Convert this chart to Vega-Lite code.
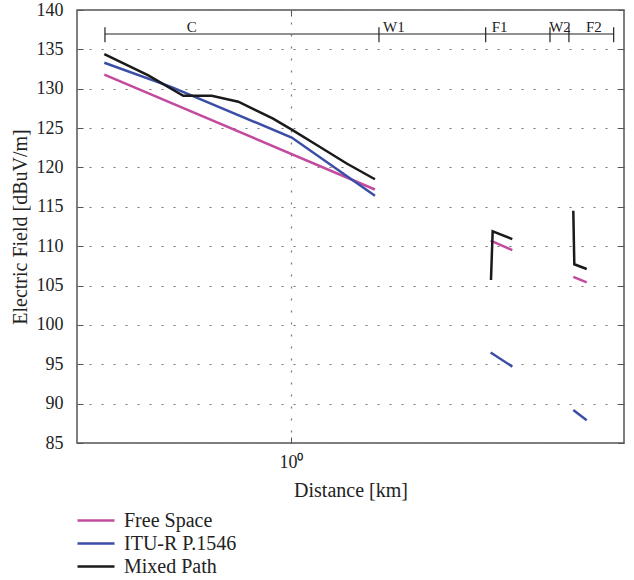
{
  "$schema": "https://vega.github.io/schema/vega-lite/v6.json",
  "autosize": {"type": "none"},
  "width": 547,
  "height": 433,
  "padding": {"left": 77, "top": 10, "right": 10, "bottom": 137},
  "config": {
    "font": "Liberation Serif",
    "view": {"stroke": "#555", "strokeWidth": 1.5},
    "axis": {
      "domain": false,
      "labelFont": "Liberation Serif",
      "titleFont": "Liberation Serif",
      "labelFontSize": 18,
      "titleFontSize": 20,
      "titleFontWeight": "normal",
      "labelColor": "#222",
      "titleColor": "#222",
      "tickColor": "#555",
      "tickSize": -6,
      "gridColor": "#777",
      "gridDash": [2, 10],
      "gridWidth": 1.2
    },
    "legend": {
      "labelFont": "Liberation Serif",
      "labelFontSize": 20,
      "labelColor": "#222"
    }
  },
  "resolve": {"axis": {"x": "independent", "y": "independent"}},
  "datasets": {
    "lines": [
      {"series": "Free Space", "seg": "FS-C", "d": 0.311, "E": 131.8},
      {"series": "Free Space", "seg": "FS-C", "d": 1.691, "E": 117.2},
      {"series": "Free Space", "seg": "FS-F1", "d": 3.488, "E": 110.7},
      {"series": "Free Space", "seg": "FS-F1", "d": 3.994, "E": 109.5},
      {"series": "Free Space", "seg": "FS-F2", "d": 5.85, "E": 106.1},
      {"series": "Free Space", "seg": "FS-F2", "d": 6.362, "E": 105.4},
      {"series": "ITU-R P.1546", "seg": "IT-C", "d": 0.311, "E": 133.3},
      {"series": "ITU-R P.1546", "seg": "IT-C", "d": 0.474, "E": 130.2},
      {"series": "ITU-R P.1546", "seg": "IT-C", "d": 1.0044, "E": 123.8},
      {"series": "ITU-R P.1546", "seg": "IT-C", "d": 1.691, "E": 116.4},
      {"series": "ITU-R P.1546", "seg": "IT-F1", "d": 3.488, "E": 96.5},
      {"series": "ITU-R P.1546", "seg": "IT-F1", "d": 3.994, "E": 94.7},
      {"series": "ITU-R P.1546", "seg": "IT-F2", "d": 5.85, "E": 89.2},
      {"series": "ITU-R P.1546", "seg": "IT-F2", "d": 6.362, "E": 87.9},
      {"series": "Mixed Path", "seg": "MP-C", "d": 0.311, "E": 134.4},
      {"series": "Mixed Path", "seg": "MP-C", "d": 0.4095, "E": 131.7},
      {"series": "Mixed Path", "seg": "MP-C", "d": 0.5097, "E": 129.1},
      {"series": "Mixed Path", "seg": "MP-C", "d": 0.6089, "E": 129.1},
      {"series": "Mixed Path", "seg": "MP-C", "d": 0.7191, "E": 128.35},
      {"series": "Mixed Path", "seg": "MP-C", "d": 0.7985, "E": 127.3},
      {"series": "Mixed Path", "seg": "MP-C", "d": 0.894, "E": 126.2},
      {"series": "Mixed Path", "seg": "MP-C", "d": 1.0044, "E": 124.8},
      {"series": "Mixed Path", "seg": "MP-C", "d": 1.199, "E": 122.6},
      {"series": "Mixed Path", "seg": "MP-C", "d": 1.417, "E": 120.5},
      {"series": "Mixed Path", "seg": "MP-C", "d": 1.691, "E": 118.5},
      {"series": "Mixed Path", "seg": "MP-F1", "d": 3.495, "E": 105.7},
      {"series": "Mixed Path", "seg": "MP-F1", "d": 3.532, "E": 111.9},
      {"series": "Mixed Path", "seg": "MP-F1", "d": 3.994, "E": 110.9},
      {"series": "Mixed Path", "seg": "MP-F2", "d": 5.85, "E": 114.5},
      {"series": "Mixed Path", "seg": "MP-F2", "d": 5.887, "E": 107.7},
      {"series": "Mixed Path", "seg": "MP-F2", "d": 6.362, "E": 107.1}
    ],
    "bounds": [
      {"d": 0.3122, "lo": 135.9, "hi": 137.8},
      {"d": 1.734, "lo": 135.9, "hi": 137.8},
      {"d": 3.381, "lo": 135.9, "hi": 137.8},
      {"d": 5.056, "lo": 135.9, "hi": 137.8},
      {"d": 5.692, "lo": 135.9, "hi": 137.8},
      {"d": 7.531, "lo": 135.9, "hi": 137.8}
    ],
    "span": [{"d": 0.3122, "d2": 7.531, "E": 136.95}],
    "zones": [
      {"d": 0.5206, "E": 137.24, "label": "C"},
      {"d": 1.778, "E": 137.24, "label": "W1"},
      {"d": 3.51, "E": 137.24, "label": "F1"},
      {"d": 5.03, "E": 137.24, "label": "W2"},
      {"d": 6.33, "E": 137.24, "label": "F2"}
    ]
  },
  "layer": [
    {
      "data": {"name": "lines"},
      "mark": {"type": "line", "strokeWidth": 2.5},
      "encoding": {
        "x": {
          "field": "d", "type": "quantitative",
          "scale": {"type": "log", "domain": [0.2621, 8.034], "nice": false},
          "axis": {"values": [1], "labelExpr": "'10⁰'", "title": "Distance [km]", "grid": true, "labelPadding": 16, "titlePadding": 9}
        },
        "y": {
          "field": "E", "type": "quantitative",
          "scale": {"domain": [85, 140], "nice": false, "zero": false},
          "axis": {"values": [85, 90, 95, 100, 105, 110, 115, 120, 125, 130, 135, 140], "title": "Electric Field [dBuV/m]", "grid": true, "labelPadding": 20, "titlePadding": 6}
        },
        "detail": {"field": "seg"},
        "color": {
          "field": "series", "type": "nominal",
          "scale": {"domain": ["Free Space", "ITU-R P.1546", "Mixed Path"], "range": ["#c24b9f", "#3a4ea6", "#1a1a1a"]},
          "legend": {
            "title": null, "orient": "none", "legendX": -1, "legendY": 501,
            "symbolType": "stroke", "symbolSize": 1369, "symbolStrokeWidth": 2.5,
            "clipHeight": 19, "rowPadding": 2, "labelOffset": 8, "padding": 0
          }
        }
      }
    },
    {
      "data": {"name": "bounds"},
      "mark": {"type": "rule", "color": "#222", "strokeWidth": 1.2},
      "encoding": {
        "x": {"field": "d", "type": "quantitative", "axis": null},
        "y": {"field": "lo", "type": "quantitative", "axis": null},
        "y2": {"field": "hi"}
      }
    },
    {
      "data": {"name": "span"},
      "mark": {"type": "rule", "color": "#222", "strokeWidth": 1.2},
      "encoding": {
        "x": {"field": "d", "type": "quantitative", "axis": null},
        "x2": {"field": "d2"},
        "y": {"field": "E", "type": "quantitative", "axis": null}
      }
    },
    {
      "data": {"name": "zones"},
      "mark": {"type": "text", "align": "left", "baseline": "alphabetic", "fontSize": 15, "font": "Liberation Serif", "color": "#222"},
      "encoding": {
        "x": {"field": "d", "type": "quantitative", "axis": null},
        "y": {"field": "E", "type": "quantitative", "axis": null},
        "text": {"field": "label"}
      }
    },
    {
      "data": {"name": "span"},
      "mark": {"type": "rule", "opacity": 0},
      "encoding": {
        "x": {"field": "d", "type": "quantitative", "axis": {"orient": "top", "values": [1], "labels": false, "grid": false, "title": null}},
        "y": {"field": "E", "type": "quantitative", "axis": {"orient": "right", "values": [85, 90, 95, 100, 105, 110, 115, 120, 125, 130, 135, 140], "labels": false, "grid": false, "title": null}}
      }
    }
  ]
}
